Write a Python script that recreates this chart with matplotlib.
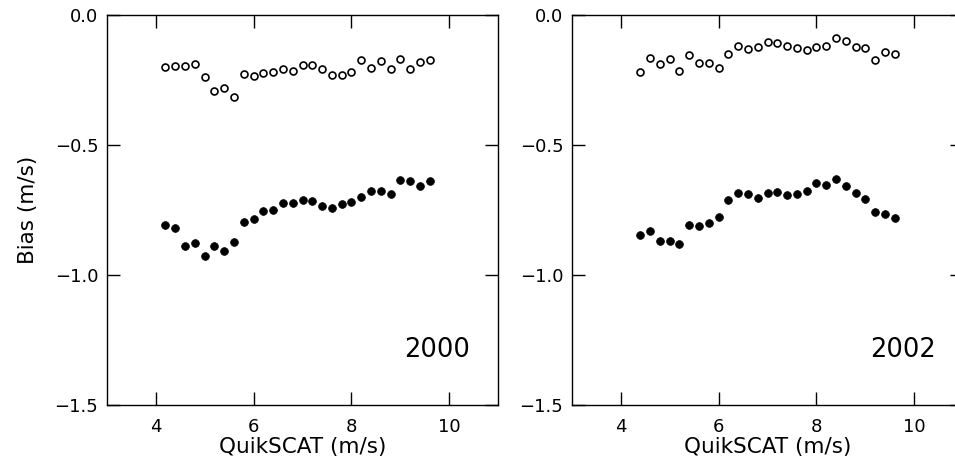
import matplotlib

matplotlib.use("Agg")
import matplotlib.pyplot as plt
from matplotlib.ticker import FuncFormatter, MultipleLocator

# wind speed bins (m/s)
x_2000 = [4.2, 4.4, 4.6, 4.8, 5.0, 5.2, 5.4, 5.6, 5.8, 6.0, 6.2, 6.4, 6.6, 6.8,
          7.0, 7.2, 7.4, 7.6, 7.8, 8.0, 8.2, 8.4, 8.6, 8.8, 9.0, 9.2, 9.4, 9.6]
x_2002 = [4.4, 4.6, 4.8, 5.0, 5.2, 5.4, 5.6, 5.8, 6.0, 6.2, 6.4, 6.6, 6.8, 7.0,
          7.2, 7.4, 7.6, 7.8, 8.0, 8.2, 8.4, 8.6, 8.8, 9.0, 9.2, 9.4, 9.6]

# bias, open circles (upper series)
open_2000 = [-0.201, -0.196, -0.195, -0.190, -0.237, -0.292, -0.282, -0.314,
             -0.228, -0.235, -0.224, -0.219, -0.209, -0.214, -0.191, -0.191,
             -0.209, -0.230, -0.231, -0.218, -0.172, -0.203, -0.178, -0.208,
             -0.169, -0.207, -0.182, -0.172]
open_2002 = [-0.218, -0.165, -0.190, -0.169, -0.214, -0.155, -0.183, -0.186,
             -0.204, -0.150, -0.120, -0.132, -0.123, -0.105, -0.106, -0.120,
             -0.126, -0.133, -0.124, -0.119, -0.088, -0.100, -0.123, -0.128,
             -0.172, -0.142, -0.150]

# bias, filled dots (lower series)
filled_2000 = [-0.808, -0.819, -0.888, -0.878, -0.927, -0.888, -0.908, -0.873,
               -0.796, -0.786, -0.754, -0.749, -0.724, -0.724, -0.713, -0.715,
               -0.733, -0.742, -0.728, -0.718, -0.700, -0.676, -0.678, -0.690,
               -0.633, -0.640, -0.657, -0.637]
filled_2002 = [-0.847, -0.832, -0.868, -0.868, -0.882, -0.806, -0.812, -0.801,
               -0.776, -0.712, -0.686, -0.690, -0.705, -0.685, -0.681, -0.691,
               -0.690, -0.677, -0.645, -0.653, -0.631, -0.657, -0.685, -0.706,
               -0.758, -0.767, -0.780]

panels = [
    ("2000", x_2000, open_2000, filled_2000),
    ("2002", x_2002, open_2002, filled_2002),
]

W, H = 955, 465


def fmt_bias(v, _pos):
    return f"{v:.1f}".replace("-", "\u2212")


def style_axes(ax):
    ax.set_xlim(3, 11)
    ax.set_ylim(-1.5, 0.0)
    ax.xaxis.set_major_locator(MultipleLocator(2))
    ax.yaxis.set_major_locator(MultipleLocator(0.5))
    ax.yaxis.set_major_formatter(FuncFormatter(fmt_bias))
    ax.tick_params(axis="both", which="major", direction="in", length=9.5,
                   width=1.0, labelsize=13, colors="black",
                   top=True, right=True)
    ax.tick_params(axis="x", pad=9)
    ax.tick_params(axis="y", pad=6)
    for side in ("top", "right", "bottom", "left"):
        ax.spines[side].set_linewidth(1.0)
        ax.spines[side].set_color("black")
    ax.set_xlabel("QuikSCAT (m/s)", fontsize=15.5, labelpad=1)


def main():
    fig = plt.figure(figsize=(W / 100, H / 100), dpi=100)
    fig.patch.set_facecolor("white")

    lefts = [106.7, 571.7]
    for (year, xs, ys_open, ys_filled), left in zip(panels, lefts):
        ax = fig.add_axes([left / W, 60 / H, 391.6 / W, 390 / H])
        ax.plot(xs, ys_open, linestyle="none", marker="o", markersize=5.0,
                markerfacecolor="white", markeredgecolor="black",
                markeredgewidth=1.2, clip_on=False)
        ax.plot(xs, ys_filled, linestyle="none", marker="o", markersize=5.6,
                markerfacecolor="black", markeredgecolor="black",
                markeredgewidth=0.5, clip_on=False)
        ax.text(10.43, -1.315, year, ha="right", va="baseline", fontsize=18.5)
        style_axes(ax)
        if year == "2000":
            ax.set_ylabel("Bias (m/s)", fontsize=15.5, labelpad=12)

    fig.savefig("out.png", dpi=100, facecolor="white")
    plt.close(fig)


if __name__ == "__main__":
    main()
